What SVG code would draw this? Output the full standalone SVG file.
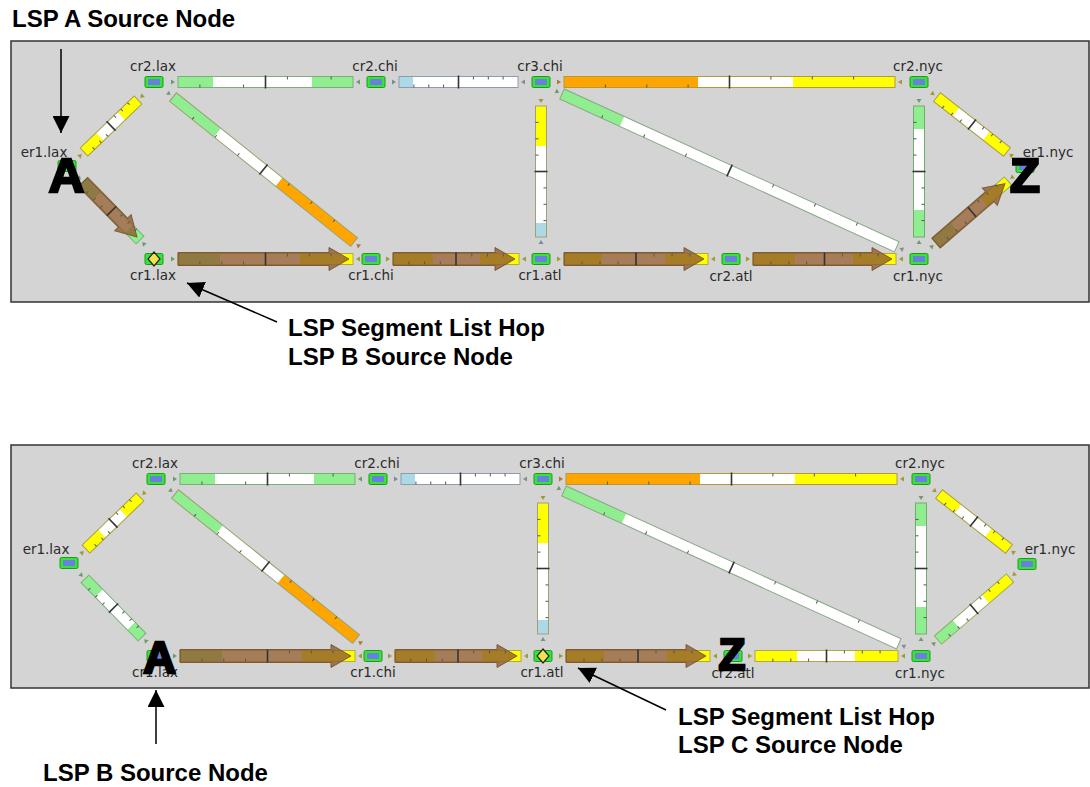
<svg xmlns="http://www.w3.org/2000/svg" xmlns:xlink="http://www.w3.org/1999/xlink" width="1090" height="787" viewBox="0 0 1090 787">
<style>
.lbl{font-family:"DejaVu Sans",sans-serif;font-size:13.5px;fill:#2a2a2a;text-anchor:middle}
.cap{font-family:"Liberation Sans",Arial,sans-serif;font-weight:bold;font-size:24px;fill:#000}
.big{font-family:"Liberation Sans",Arial,sans-serif;font-weight:bold;fill:#000;stroke:#000;stroke-width:2.6;stroke-linejoin:miter;text-anchor:middle}
.panel{fill:#d4d4d4;stroke:#333;stroke-width:1.5}
.g{fill:#90ee90}.w{fill:#fff}.y{fill:#ffff00}.o{fill:#ffa500}.b{fill:#add8e6}
.ol{fill:none;stroke-width:1}
.tk{stroke:#555;stroke-width:1;fill:none}
.bt{stroke:#333;stroke-width:1.6}
.lsp{fill:#8e5c31;fill-opacity:.8;stroke:#6f4a22;stroke-opacity:.8;stroke-width:1}
.tg{fill:#6c9c6c}.ty{fill:#a09a30}.tw{fill:#8a8a8a}.tb{fill:#7a8aa0}.to{fill:#b07830}
.ptr{stroke:#000;stroke-width:1.5;fill:none}
</style>
<defs>
<marker id="ah" markerUnits="userSpaceOnUse" markerWidth="17" markerHeight="17" viewBox="0 0 16 16" refX="16" refY="8" orient="auto"><path d="M0,0 L16,8 L0,16z" fill="#000"/></marker>
<g id="nd"><rect x="-9" y="-5.5" width="18" height="11" rx="1.5" fill="#36e336" stroke="#1f9a1f" stroke-width="1"/><rect x="-6" y="-3" width="12" height="6" fill="#6b7fe0"/></g>
<g id="dm"><rect x="-9" y="-5.5" width="18" height="11" rx="1.5" fill="#36e336" stroke="#1f9a1f" stroke-width="1"/><polygon points="0,-7 6,0 0,7 -6,0" fill="#f5e050" stroke="#222" stroke-width="1.2"/></g>
</defs>
<rect width="1090" height="787" fill="#fff"/>

<!-- ===== TOP PANEL ===== -->
<rect class="panel" x="11" y="41" width="1078" height="261"/>
<g id="top-panel">
<g id="top-connectors">
<g id="t-l1" transform="translate(178,82)"><rect class="g" x="0" y="-5.5" width="35" height="11"/><rect class="w" x="35" y="-5.5" width="99" height="11"/><rect class="g" x="134" y="-5.5" width="41" height="11"/><rect class="ol" x="0" y="-5.5" width="175" height="11" stroke="#7aae7a"/><path class="tk" d="M21.9,5.5v-3M65.6,5.5v-3M109.4,-5.5v3M153.1,-5.5v3"/><path class="bt" d="M87.5,-6.5V6.5"/><polygon class="tg" points="-7,-2.5 -3,0 -7,2.5"/><polygon class="tg" points="182,-2.5 178,0 182,2.5"/></g>
<g id="t-l2" transform="translate(399,82)"><rect class="b" x="0" y="-5.5" width="14" height="11"/><rect class="w" x="14" y="-5.5" width="105" height="11"/><rect class="ol" x="0" y="-5.5" width="119" height="11" stroke="#8c9cac"/><path class="tk" d="M14.9,5.5v-3M29.8,5.5v-3M44.6,5.5v-3M74.4,-5.5v3M89.3,-5.5v3M104.1,-5.5v3"/><path class="bt" d="M59.5,-6.5V6.5"/><polygon class="tb" points="-7,-2.5 -3,0 -7,2.5"/><polygon class="tw" points="126,-2.5 122,0 126,2.5"/></g>
<g id="t-l3" transform="translate(564,82)"><rect class="o" x="0" y="-5.5" width="134" height="11"/><rect class="w" x="134" y="-5.5" width="95" height="11"/><rect class="y" x="229" y="-5.5" width="102" height="11"/><rect class="ol" x="0" y="-5.5" width="331" height="11" stroke="#b8963c"/><path class="tk" d="M41.4,5.5v-3M82.8,5.5v-3M124.1,5.5v-3M206.9,-5.5v3M248.3,-5.5v3M289.6,-5.5v3"/><path class="bt" d="M165.5,-6.5V6.5"/><polygon class="to" points="-7,-2.5 -3,0 -7,2.5"/><polygon class="ty" points="338,-2.5 334,0 338,2.5"/></g>
<g id="t-l4" transform="translate(541,106) rotate(90)"><rect class="y" x="0" y="-5.5" width="40" height="11"/><rect class="w" x="40" y="-5.5" width="77" height="11"/><rect class="b" x="117" y="-5.5" width="14" height="11"/><rect class="ol" x="0" y="-5.5" width="131" height="11" stroke="#a0a078"/><path class="tk" d="M16.4,5.5v-3M32.8,5.5v-3M49.1,5.5v-3M81.9,-5.5v3M98.3,-5.5v3M114.6,-5.5v3"/><path class="bt" d="M65.5,-6.5V6.5"/><polygon class="ty" points="-7,-2.5 -3,0 -7,2.5"/><polygon class="tb" points="138,-2.5 134,0 138,2.5"/></g>
<g id="t-l5" transform="translate(919,106) rotate(90)"><rect class="g" x="0" y="-5.5" width="23" height="11"/><rect class="w" x="23" y="-5.5" width="81" height="11"/><rect class="g" x="104" y="-5.5" width="27" height="11"/><rect class="ol" x="0" y="-5.5" width="131" height="11" stroke="#72aa72"/><path class="tk" d="M16.4,5.5v-3M32.8,5.5v-3M49.1,5.5v-3M81.9,-5.5v3M98.3,-5.5v3M114.6,-5.5v3"/><path class="bt" d="M65.5,-6.5V6.5"/><polygon class="tg" points="-7,-2.5 -3,0 -7,2.5"/><polygon class="tg" points="138,-2.5 134,0 138,2.5"/></g>
<g id="t-l6" transform="translate(84,152) rotate(-43.92)"><rect class="y" x="0" y="-5.5" width="22" height="11"/><rect class="w" x="22" y="-5.5" width="30" height="11"/><rect class="y" x="52" y="-5.5" width="23" height="11"/><rect class="ol" x="0" y="-5.5" width="75" height="11" stroke="#aaa040"/><path class="tk" d="M9.4,5.5v-3M18.8,5.5v-3M28.1,5.5v-3M46.9,-5.5v3M56.3,-5.5v3M65.6,-5.5v3"/><path class="bt" d="M37.5,-6.5V6.5"/><polygon class="ty" points="-7,-2.5 -3,0 -7,2.5"/><polygon class="ty" points="82,-2.5 78,0 82,2.5"/></g>
<g id="t-l7" transform="translate(173,97) rotate(38.7)"><rect class="g" x="0" y="-5.5" width="57" height="11"/><rect class="w" x="57" y="-5.5" width="79" height="11"/><rect class="o" x="136" y="-5.5" width="96" height="11"/><rect class="ol" x="0" y="-5.5" width="232" height="11" stroke="#98a070"/><path class="tk" d="M29,5.5v-3M58,5.5v-3M87,5.5v-3M145,-5.5v3M174,-5.5v3M203,-5.5v3"/><path class="bt" d="M116,-6.5V6.5"/><polygon class="tg" points="-7,-2.5 -3,0 -7,2.5"/><polygon class="to" points="239,-2.5 235,0 239,2.5"/></g>
<g id="t-l8" transform="translate(562,94) rotate(24.54)"><rect class="g" x="0" y="-5.5" width="66" height="11"/><rect class="w" x="66" y="-5.5" width="302" height="11"/><rect class="ol" x="0" y="-5.5" width="368" height="11" stroke="#88a888"/><path class="tk" d="M46,5.5v-3M92.1,5.5v-3M138.1,5.5v-3M230.2,-5.5v3M276.2,-5.5v3M322.3,-5.5v3"/><path class="bt" d="M184.2,-6.5V6.5"/><polygon class="tg" points="-7,-2.5 -3,0 -7,2.5"/><polygon class="tw" points="375,-2.5 371,0 375,2.5"/></g>
<g id="t-l9" transform="translate(937,97) rotate(38.16)"><rect class="y" x="0" y="-5.5" width="24" height="11"/><rect class="w" x="24" y="-5.5" width="39" height="11"/><rect class="y" x="63" y="-5.5" width="26" height="11"/><rect class="ol" x="0" y="-5.5" width="89" height="11" stroke="#aaa040"/><path class="tk" d="M11.1,5.5v-3M22.3,5.5v-3M33.4,5.5v-3M55.6,-5.5v3M66.8,-5.5v3M77.9,-5.5v3"/><path class="bt" d="M44.5,-6.5V6.5"/><polygon class="ty" points="-7,-2.5 -3,0 -7,2.5"/><polygon class="ty" points="96,-2.5 92,0 96,2.5"/></g>
<g id="t-l10" transform="translate(83,182) rotate(45.5)"><rect class="g" x="0" y="-5.5" width="20" height="11"/><rect class="w" x="20" y="-5.5" width="46" height="11"/><rect class="g" x="66" y="-5.5" width="15.3" height="11"/><rect class="ol" x="0" y="-5.5" width="81.3" height="11" stroke="#7aae7a"/><path class="lsp" d="M0,-6.5H57V-11.5L77,0L57,11.5V6.5H0Z"/><path class="tk" d="M10.2,5.5v-3M20.3,5.5v-3M30.5,5.5v-3M50.8,-5.5v3M61,-5.5v3M71.1,-5.5v3"/><path class="bt" d="M40.7,-6.5V6.5"/><polygon class="tg" points="-7,-2.5 -3,0 -7,2.5"/><polygon class="tg" points="88.3,-2.5 84.3,0 88.3,2.5"/></g>
<g id="t-l11" transform="translate(936,243) rotate(-40.73)"><rect class="g" x="0" y="-5.5" width="24" height="11"/><rect class="w" x="24" y="-5.5" width="39" height="11"/><rect class="y" x="63" y="-5.5" width="32" height="11"/><rect class="ol" x="0" y="-5.5" width="95" height="11" stroke="#98a860"/><path class="lsp" d="M0,-6.5H71V-11.5L91,0L71,11.5V6.5H0Z"/><path class="tk" d="M11.9,5.5v-3M23.8,5.5v-3M35.6,5.5v-3M59.4,-5.5v3M71.3,-5.5v3M83.1,-5.5v3"/><path class="bt" d="M47.5,-6.5V6.5"/><polygon class="tg" points="-7,-2.5 -3,0 -7,2.5"/><polygon class="ty" points="102,-2.5 98,0 102,2.5"/></g>
<g id="t-l12" transform="translate(178,259)"><rect class="g" x="0" y="-5.5" width="42" height="11"/><rect class="w" x="42" y="-5.5" width="80" height="11"/><rect class="y" x="122" y="-5.5" width="53" height="11"/><rect class="ol" x="0" y="-5.5" width="175" height="11" stroke="#b4a840"/><path class="lsp" d="M0,-6.5H151V-11.5L171,0L151,11.5V6.5H0Z"/><path class="tk" d="M21.9,5.5v-3M43.8,5.5v-3M65.6,5.5v-3M109.4,-5.5v3M131.3,-5.5v3M153.1,-5.5v3"/><path class="bt" d="M87.5,-6.5V6.5"/><polygon class="tg" points="-7,-2.5 -3,0 -7,2.5"/><polygon class="ty" points="182,-2.5 178,0 182,2.5"/></g>
<g id="t-l13" transform="translate(393,259)"><rect class="y" x="0" y="-5.5" width="40" height="11"/><rect class="w" x="40" y="-5.5" width="47" height="11"/><rect class="y" x="87" y="-5.5" width="39" height="11"/><rect class="ol" x="0" y="-5.5" width="126" height="11" stroke="#b4a840"/><path class="lsp" d="M0,-6.5H102V-11.5L122,0L102,11.5V6.5H0Z"/><path class="tk" d="M15.8,5.5v-3M31.5,5.5v-3M47.3,5.5v-3M78.8,-5.5v3M94.5,-5.5v3M110.3,-5.5v3"/><path class="bt" d="M63,-6.5V6.5"/><polygon class="ty" points="-7,-2.5 -3,0 -7,2.5"/><polygon class="ty" points="133,-2.5 129,0 133,2.5"/></g>
<g id="t-l14" transform="translate(564,259)"><rect class="y" x="0" y="-5.5" width="38" height="11"/><rect class="w" x="38" y="-5.5" width="63" height="11"/><rect class="y" x="101" y="-5.5" width="43" height="11"/><rect class="ol" x="0" y="-5.5" width="144" height="11" stroke="#b4a840"/><path class="lsp" d="M0,-6.5H120V-11.5L140,0L120,11.5V6.5H0Z"/><path class="tk" d="M18,5.5v-3M36,5.5v-3M54,5.5v-3M90,-5.5v3M108,-5.5v3M126,-5.5v3"/><path class="bt" d="M72,-6.5V6.5"/><polygon class="ty" points="-7,-2.5 -3,0 -7,2.5"/><polygon class="ty" points="151,-2.5 147,0 151,2.5"/></g>
<g id="t-l15" transform="translate(753,259)"><rect class="y" x="0" y="-5.5" width="42" height="11"/><rect class="w" x="42" y="-5.5" width="58" height="11"/><rect class="y" x="100" y="-5.5" width="43" height="11"/><rect class="ol" x="0" y="-5.5" width="143" height="11" stroke="#b4a840"/><path class="lsp" d="M0,-6.5H119V-11.5L139,0L119,11.5V6.5H0Z"/><path class="tk" d="M17.9,5.5v-3M35.8,5.5v-3M53.6,5.5v-3M89.4,-5.5v3M107.3,-5.5v3M125.1,-5.5v3"/><path class="bt" d="M71.5,-6.5V6.5"/><polygon class="ty" points="-7,-2.5 -3,0 -7,2.5"/><polygon class="ty" points="150,-2.5 146,0 150,2.5"/></g>
</g>
<g id="top-nodes">
<g id="t-cr2-lax" transform="translate(154,82)"><use xlink:href="#nd"/><text class="lbl" x="-1" y="-11">cr2.lax</text></g>
<g id="t-cr2-chi" transform="translate(376,82)"><use xlink:href="#nd"/><text class="lbl" x="-1" y="-11">cr2.chi</text></g>
<g id="t-cr3-chi" transform="translate(541,82)"><use xlink:href="#nd"/><text class="lbl" x="-1" y="-11">cr3.chi</text></g>
<g id="t-cr2-nyc" transform="translate(919,82)"><use xlink:href="#nd"/><text class="lbl" x="-1" y="-11">cr2.nyc</text></g>
<g id="t-er1-lax" transform="translate(67,166)"><use xlink:href="#nd"/><text class="lbl" x="-23" y="-9">er1.lax</text></g>
<g id="t-er1-nyc" transform="translate(1025,167)"><use xlink:href="#nd"/><text class="lbl" x="23" y="-10">er1.nyc</text></g>
<g id="t-cr1-lax" transform="translate(154,259)"><use xlink:href="#dm"/><text class="lbl" x="-1" y="21">cr1.lax</text></g>
<g id="t-cr1-chi" transform="translate(371,259)"><use xlink:href="#nd"/><text class="lbl" x="0" y="21">cr1.chi</text></g>
<g id="t-cr1-atl" transform="translate(541,259)"><use xlink:href="#nd"/><text class="lbl" x="-1" y="21">cr1.atl</text></g>
<g id="t-cr2-atl" transform="translate(731,259)"><use xlink:href="#nd"/><text class="lbl" x="0" y="22">cr2.atl</text></g>
<g id="t-cr1-nyc" transform="translate(919,259)"><use xlink:href="#nd"/><text class="lbl" x="-1" y="22">cr1.nyc</text></g>
</g>
<g id="top-markers">
<text class="big" x="66.5" y="192" font-size="49">A</text>
<text class="big" x="1025" y="192" font-size="49">Z</text>
</g>
</g>

<!-- ===== BOTTOM PANEL ===== -->
<rect class="panel" x="11" y="445" width="1078" height="243"/>
<g id="bottom-panel" transform="translate(2,397)">
<g id="bottom-connectors">
<g id="b-l1" transform="translate(178,82)"><rect class="g" x="0" y="-5.5" width="35" height="11"/><rect class="w" x="35" y="-5.5" width="99" height="11"/><rect class="g" x="134" y="-5.5" width="41" height="11"/><rect class="ol" x="0" y="-5.5" width="175" height="11" stroke="#7aae7a"/><path class="tk" d="M21.9,5.5v-3M65.6,5.5v-3M109.4,-5.5v3M153.1,-5.5v3"/><path class="bt" d="M87.5,-6.5V6.5"/><polygon class="tg" points="-7,-2.5 -3,0 -7,2.5"/><polygon class="tg" points="182,-2.5 178,0 182,2.5"/></g>
<g id="b-l2" transform="translate(399,82)"><rect class="b" x="0" y="-5.5" width="14" height="11"/><rect class="w" x="14" y="-5.5" width="105" height="11"/><rect class="ol" x="0" y="-5.5" width="119" height="11" stroke="#8c9cac"/><path class="tk" d="M14.9,5.5v-3M29.8,5.5v-3M44.6,5.5v-3M74.4,-5.5v3M89.3,-5.5v3M104.1,-5.5v3"/><path class="bt" d="M59.5,-6.5V6.5"/><polygon class="tb" points="-7,-2.5 -3,0 -7,2.5"/><polygon class="tw" points="126,-2.5 122,0 126,2.5"/></g>
<g id="b-l3" transform="translate(564,82)"><rect class="o" x="0" y="-5.5" width="134" height="11"/><rect class="w" x="134" y="-5.5" width="95" height="11"/><rect class="y" x="229" y="-5.5" width="102" height="11"/><rect class="ol" x="0" y="-5.5" width="331" height="11" stroke="#b8963c"/><path class="tk" d="M41.4,5.5v-3M82.8,5.5v-3M124.1,5.5v-3M206.9,-5.5v3M248.3,-5.5v3M289.6,-5.5v3"/><path class="bt" d="M165.5,-6.5V6.5"/><polygon class="to" points="-7,-2.5 -3,0 -7,2.5"/><polygon class="ty" points="338,-2.5 334,0 338,2.5"/></g>
<g id="b-l4" transform="translate(541,106) rotate(90)"><rect class="y" x="0" y="-5.5" width="40" height="11"/><rect class="w" x="40" y="-5.5" width="77" height="11"/><rect class="b" x="117" y="-5.5" width="14" height="11"/><rect class="ol" x="0" y="-5.5" width="131" height="11" stroke="#a0a078"/><path class="tk" d="M16.4,5.5v-3M32.8,5.5v-3M49.1,5.5v-3M81.9,-5.5v3M98.3,-5.5v3M114.6,-5.5v3"/><path class="bt" d="M65.5,-6.5V6.5"/><polygon class="ty" points="-7,-2.5 -3,0 -7,2.5"/><polygon class="tb" points="138,-2.5 134,0 138,2.5"/></g>
<g id="b-l5" transform="translate(919,106) rotate(90)"><rect class="g" x="0" y="-5.5" width="23" height="11"/><rect class="w" x="23" y="-5.5" width="81" height="11"/><rect class="g" x="104" y="-5.5" width="27" height="11"/><rect class="ol" x="0" y="-5.5" width="131" height="11" stroke="#72aa72"/><path class="tk" d="M16.4,5.5v-3M32.8,5.5v-3M49.1,5.5v-3M81.9,-5.5v3M98.3,-5.5v3M114.6,-5.5v3"/><path class="bt" d="M65.5,-6.5V6.5"/><polygon class="tg" points="-7,-2.5 -3,0 -7,2.5"/><polygon class="tg" points="138,-2.5 134,0 138,2.5"/></g>
<g id="b-l6" transform="translate(84,152) rotate(-43.92)"><rect class="y" x="0" y="-5.5" width="22" height="11"/><rect class="w" x="22" y="-5.5" width="30" height="11"/><rect class="y" x="52" y="-5.5" width="23" height="11"/><rect class="ol" x="0" y="-5.5" width="75" height="11" stroke="#aaa040"/><path class="tk" d="M9.4,5.5v-3M18.8,5.5v-3M28.1,5.5v-3M46.9,-5.5v3M56.3,-5.5v3M65.6,-5.5v3"/><path class="bt" d="M37.5,-6.5V6.5"/><polygon class="ty" points="-7,-2.5 -3,0 -7,2.5"/><polygon class="ty" points="82,-2.5 78,0 82,2.5"/></g>
<g id="b-l7" transform="translate(173,97) rotate(38.7)"><rect class="g" x="0" y="-5.5" width="57" height="11"/><rect class="w" x="57" y="-5.5" width="79" height="11"/><rect class="o" x="136" y="-5.5" width="96" height="11"/><rect class="ol" x="0" y="-5.5" width="232" height="11" stroke="#98a070"/><path class="tk" d="M29,5.5v-3M58,5.5v-3M87,5.5v-3M145,-5.5v3M174,-5.5v3M203,-5.5v3"/><path class="bt" d="M116,-6.5V6.5"/><polygon class="tg" points="-7,-2.5 -3,0 -7,2.5"/><polygon class="to" points="239,-2.5 235,0 239,2.5"/></g>
<g id="b-l8" transform="translate(562,94) rotate(24.54)"><rect class="g" x="0" y="-5.5" width="66" height="11"/><rect class="w" x="66" y="-5.5" width="302" height="11"/><rect class="ol" x="0" y="-5.5" width="368" height="11" stroke="#88a888"/><path class="tk" d="M46,5.5v-3M92.1,5.5v-3M138.1,5.5v-3M230.2,-5.5v3M276.2,-5.5v3M322.3,-5.5v3"/><path class="bt" d="M184.2,-6.5V6.5"/><polygon class="tg" points="-7,-2.5 -3,0 -7,2.5"/><polygon class="tw" points="375,-2.5 371,0 375,2.5"/></g>
<g id="b-l9" transform="translate(937,97) rotate(38.16)"><rect class="y" x="0" y="-5.5" width="24" height="11"/><rect class="w" x="24" y="-5.5" width="39" height="11"/><rect class="y" x="63" y="-5.5" width="26" height="11"/><rect class="ol" x="0" y="-5.5" width="89" height="11" stroke="#aaa040"/><path class="tk" d="M11.1,5.5v-3M22.3,5.5v-3M33.4,5.5v-3M55.6,-5.5v3M66.8,-5.5v3M77.9,-5.5v3"/><path class="bt" d="M44.5,-6.5V6.5"/><polygon class="ty" points="-7,-2.5 -3,0 -7,2.5"/><polygon class="ty" points="96,-2.5 92,0 96,2.5"/></g>
<g id="b-l10" transform="translate(83,182) rotate(45.5)"><rect class="g" x="0" y="-5.5" width="20" height="11"/><rect class="w" x="20" y="-5.5" width="46" height="11"/><rect class="g" x="66" y="-5.5" width="15.3" height="11"/><rect class="ol" x="0" y="-5.5" width="81.3" height="11" stroke="#7aae7a"/><path class="tk" d="M10.2,5.5v-3M20.3,5.5v-3M30.5,5.5v-3M50.8,-5.5v3M61,-5.5v3M71.1,-5.5v3"/><path class="bt" d="M40.7,-6.5V6.5"/><polygon class="tg" points="-7,-2.5 -3,0 -7,2.5"/><polygon class="tg" points="88.3,-2.5 84.3,0 88.3,2.5"/></g>
<g id="b-l11" transform="translate(936,243) rotate(-40.73)"><rect class="g" x="0" y="-5.5" width="24" height="11"/><rect class="w" x="24" y="-5.5" width="39" height="11"/><rect class="y" x="63" y="-5.5" width="32" height="11"/><rect class="ol" x="0" y="-5.5" width="95" height="11" stroke="#98a860"/><path class="tk" d="M11.9,5.5v-3M23.8,5.5v-3M35.6,5.5v-3M59.4,-5.5v3M71.3,-5.5v3M83.1,-5.5v3"/><path class="bt" d="M47.5,-6.5V6.5"/><polygon class="tg" points="-7,-2.5 -3,0 -7,2.5"/><polygon class="ty" points="102,-2.5 98,0 102,2.5"/></g>
<g id="b-l12" transform="translate(178,259)"><rect class="g" x="0" y="-5.5" width="42" height="11"/><rect class="w" x="42" y="-5.5" width="80" height="11"/><rect class="y" x="122" y="-5.5" width="53" height="11"/><rect class="ol" x="0" y="-5.5" width="175" height="11" stroke="#b4a840"/><path class="lsp" d="M0,-6.5H151V-11.5L171,0L151,11.5V6.5H0Z"/><path class="tk" d="M21.9,5.5v-3M43.8,5.5v-3M65.6,5.5v-3M109.4,-5.5v3M131.3,-5.5v3M153.1,-5.5v3"/><path class="bt" d="M87.5,-6.5V6.5"/><polygon class="tg" points="-7,-2.5 -3,0 -7,2.5"/><polygon class="ty" points="182,-2.5 178,0 182,2.5"/></g>
<g id="b-l13" transform="translate(393,259)"><rect class="y" x="0" y="-5.5" width="40" height="11"/><rect class="w" x="40" y="-5.5" width="47" height="11"/><rect class="y" x="87" y="-5.5" width="39" height="11"/><rect class="ol" x="0" y="-5.5" width="126" height="11" stroke="#b4a840"/><path class="lsp" d="M0,-6.5H102V-11.5L122,0L102,11.5V6.5H0Z"/><path class="tk" d="M15.8,5.5v-3M31.5,5.5v-3M47.3,5.5v-3M78.8,-5.5v3M94.5,-5.5v3M110.3,-5.5v3"/><path class="bt" d="M63,-6.5V6.5"/><polygon class="ty" points="-7,-2.5 -3,0 -7,2.5"/><polygon class="ty" points="133,-2.5 129,0 133,2.5"/></g>
<g id="b-l14" transform="translate(564,259)"><rect class="y" x="0" y="-5.5" width="38" height="11"/><rect class="w" x="38" y="-5.5" width="63" height="11"/><rect class="y" x="101" y="-5.5" width="43" height="11"/><rect class="ol" x="0" y="-5.5" width="144" height="11" stroke="#b4a840"/><path class="lsp" d="M0,-6.5H120V-11.5L140,0L120,11.5V6.5H0Z"/><path class="tk" d="M18,5.5v-3M36,5.5v-3M54,5.5v-3M90,-5.5v3M108,-5.5v3M126,-5.5v3"/><path class="bt" d="M72,-6.5V6.5"/><polygon class="ty" points="-7,-2.5 -3,0 -7,2.5"/><polygon class="ty" points="151,-2.5 147,0 151,2.5"/></g>
<g id="b-l15" transform="translate(753,259)"><rect class="y" x="0" y="-5.5" width="42" height="11"/><rect class="w" x="42" y="-5.5" width="58" height="11"/><rect class="y" x="100" y="-5.5" width="43" height="11"/><rect class="ol" x="0" y="-5.5" width="143" height="11" stroke="#b4a840"/><path class="tk" d="M17.9,5.5v-3M35.8,5.5v-3M53.6,5.5v-3M89.4,-5.5v3M107.3,-5.5v3M125.1,-5.5v3"/><path class="bt" d="M71.5,-6.5V6.5"/><polygon class="ty" points="-7,-2.5 -3,0 -7,2.5"/><polygon class="ty" points="150,-2.5 146,0 150,2.5"/></g>
</g>
<g id="bottom-nodes">
<g id="b-cr2-lax" transform="translate(154,82)"><use xlink:href="#nd"/><text class="lbl" x="-1" y="-11">cr2.lax</text></g>
<g id="b-cr2-chi" transform="translate(376,82)"><use xlink:href="#nd"/><text class="lbl" x="-1" y="-11">cr2.chi</text></g>
<g id="b-cr3-chi" transform="translate(541,82)"><use xlink:href="#nd"/><text class="lbl" x="-1" y="-11">cr3.chi</text></g>
<g id="b-cr2-nyc" transform="translate(919,82)"><use xlink:href="#nd"/><text class="lbl" x="-1" y="-11">cr2.nyc</text></g>
<g id="b-er1-lax" transform="translate(67,166)"><use xlink:href="#nd"/><text class="lbl" x="-23" y="-9">er1.lax</text></g>
<g id="b-er1-nyc" transform="translate(1025,167)"><use xlink:href="#nd"/><text class="lbl" x="23" y="-10">er1.nyc</text></g>
<g id="b-cr1-lax" transform="translate(154,259)"><use xlink:href="#nd"/><text class="lbl" x="-1" y="21">cr1.lax</text></g>
<g id="b-cr1-chi" transform="translate(371,259)"><use xlink:href="#nd"/><text class="lbl" x="0" y="21">cr1.chi</text></g>
<g id="b-cr1-atl" transform="translate(541,259)"><use xlink:href="#dm"/><text class="lbl" x="-1" y="21">cr1.atl</text></g>
<g id="b-cr2-atl" transform="translate(731,259)"><use xlink:href="#nd"/><text class="lbl" x="0" y="22">cr2.atl</text></g>
<g id="b-cr1-nyc" transform="translate(919,259)"><use xlink:href="#nd"/><text class="lbl" x="-1" y="22">cr1.nyc</text></g>
</g>
<g id="bottom-markers">
<text class="big" x="157.5" y="276" font-size="45">A</text>
<text class="big" x="730" y="273" font-size="44">Z</text>
</g>
</g>

<!-- ===== CALLOUTS ===== -->
<g id="callouts">
<text class="cap" x="12" y="27" font-size="23.5">LSP A Source Node</text>
<line class="ptr" x1="61" y1="49" x2="61" y2="133" marker-end="url(#ah)"/>
<text class="cap" x="288" y="336">LSP Segment List Hop</text>
<text class="cap" x="288" y="365">LSP B Source Node</text>
<line class="ptr" x1="277" y1="322" x2="187" y2="283" marker-end="url(#ah)"/>
<text class="cap" x="678" y="725">LSP Segment List Hop</text>
<text class="cap" x="678" y="753">LSP C Source Node</text>
<line class="ptr" x1="666" y1="710" x2="578" y2="668" marker-end="url(#ah)"/>
<text class="cap" x="43" y="781">LSP B Source Node</text>
<line class="ptr" x1="156" y1="744" x2="156" y2="690" marker-end="url(#ah)"/>
</g>
</svg>
